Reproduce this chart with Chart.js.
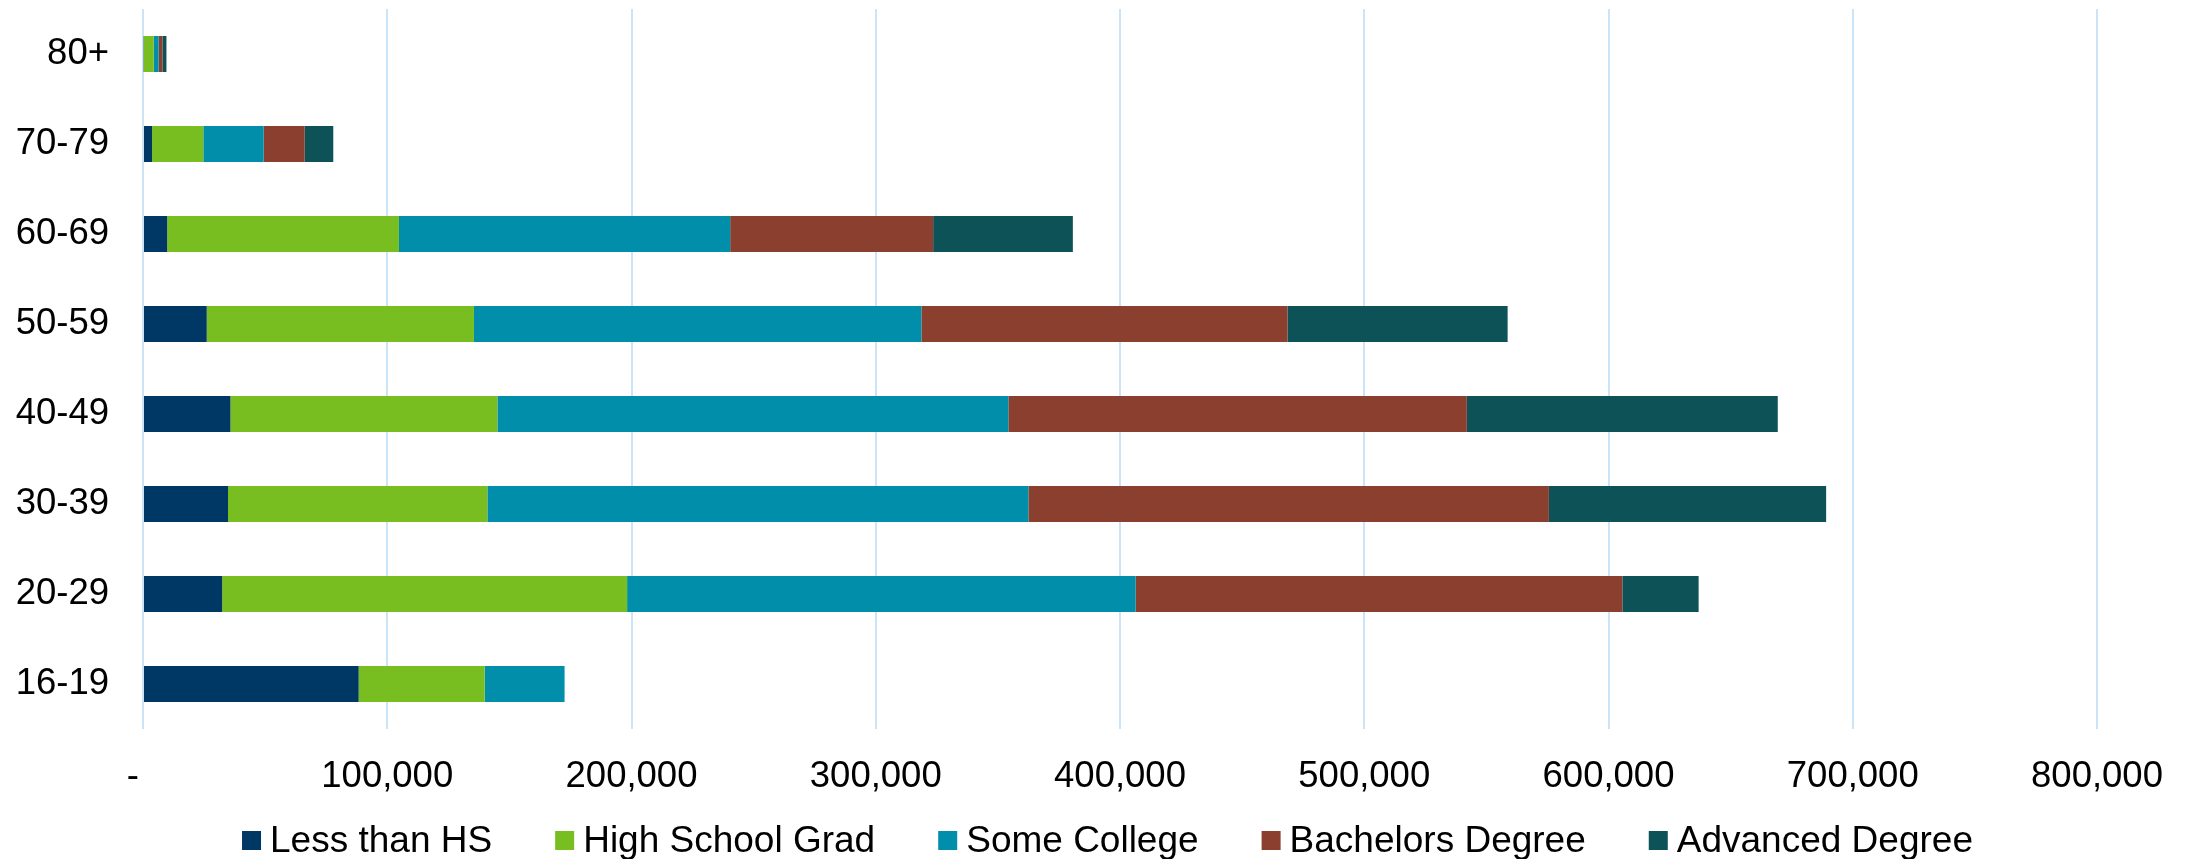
<!DOCTYPE html>
<html>
<head>
<meta charset="utf-8">
<script src="https://cdn.jsdelivr.net/npm/chart.js@4.4.1/dist/chart.umd.min.js"></script>
<style>
  html, body { margin: 0; padding: 0; background: #fff; overflow: hidden; }
  #wrap { width: 2195px; height: 859px; }
</style>
</head>
<body>
<div id="wrap"><canvas id="chart-education"></canvas></div>
<script>
// age groups, bottom to top
const ageGroups = ['16-19', '20-29', '30-39', '40-49', '50-59', '60-69', '70-79', '80+'];

const lessThanHS   = [88300, 32400, 34800, 35800, 26100,   9900,  3700,  300];
const highSchool   = [51600, 165800, 106200, 109300, 109400, 94900, 21000, 4100];
const someCollege  = [32700, 208200, 221500, 209200, 183200, 135600, 24700, 2000];
const bachelors    = [0, 199300, 213100, 187700, 149900, 83100, 16800, 1600];
const advanced     = [0, 31200, 113500, 127300, 90100, 57200, 11700, 1600];

const seriesNames = ['Less than HS', 'High School Grad', 'Some College', 'Bachelors Degree', 'Advanced Degree'];
const seriesColors = ['#003865', '#78BE21', '#008EAA', '#8B3F2F', '#0D5257'];

const xTicks = [0, 100000, 200000, 300000, 400000, 500000, 600000, 700000, 800000];

const fontFamily = "'Liberation Sans', Arial, sans-serif";

// legend drawn by hand so box / text spacing matches the Excel one
const bottomLegend = {
  id: 'bottomLegend',
  afterDraw(chart) {
    const { ctx, data } = chart;
    ctx.save();
    const fontSize = 37;
    const box = 19;
    const boxGap = 9;
    const itemGap = 63;
    ctx.font = `${fontSize}px ${fontFamily}`;
    ctx.textBaseline = 'middle';
    ctx.textAlign = 'left';

    const widths = data.datasets.map(ds => box + boxGap + ctx.measureText(ds.label).width);
    const total = widths.reduce((a, b) => a + b, 0) + itemGap * (widths.length - 1);
    let x = chart.width / 2 + 10 - total / 2;
    const yMid = 840.5;

    data.datasets.forEach((ds, i) => {
      ctx.fillStyle = ds.backgroundColor;
      ctx.fillRect(x, yMid - box / 2, box, box);
      ctx.fillStyle = '#000';
      ctx.fillText(ds.label, x + box + boxGap, yMid + 1);
      x += widths[i] + itemGap;
    });
    ctx.restore();
  }
};

const seriesValues = [lessThanHS, highSchool, someCollege, bachelors, advanced];

new Chart(document.getElementById('chart-education'), {
  type: 'bar',
  data: {
    labels: ageGroups,
    datasets: seriesValues.map((vals, i) => ({
      label: seriesNames[i],
      data: vals,
      backgroundColor: seriesColors[i],
      borderWidth: 0,
      barPercentage: 0.4,
      categoryPercentage: 1.0
    }))
  },
  options: {
    indexAxis: 'y',
    responsive: true,
    maintainAspectRatio: false,
    animation: false,
    layout: {
      padding: { top: 9, right: 98, left: 0, bottom: 0 }
    },
    plugins: {
      legend: { display: false },
      tooltip: { enabled: false }
    },
    scales: {
      x: {
        stacked: true,
        min: 0,
        max: 800000,
        afterBuildTicks(scale) {
          scale.ticks = xTicks.map(v => ({ value: v }));
        },
        afterFit(scale) {
          scale.height = 130;
        },
        grid: {
          color: '#cce4f8',
          lineWidth: 2,
          drawTicks: false
        },
        border: { display: false },
        ticks: {
          padding: 26,
          color: '#000',
          maxRotation: 0,
          autoSkip: false,
          font: { family: fontFamily, size: 36.5 },
          callback: (v) => v === 0 ? '-  ' : v.toLocaleString('en-US')
        }
      },
      y: {
        stacked: true,
        reverse: true,
        afterFit(scale) {
          scale.width = 143;
          // labels sit inside the category bands, no extra room needed
          scale.paddingTop = 0;
          scale.paddingBottom = 0;
        },
        grid: { display: false, drawTicks: false },
        border: { display: false },
        ticks: {
          padding: 34,
          color: '#000',
          font: { family: fontFamily, size: 36.5 }
        }
      }
    }
  },
  plugins: [bottomLegend]
});
</script>
</body>
</html>
